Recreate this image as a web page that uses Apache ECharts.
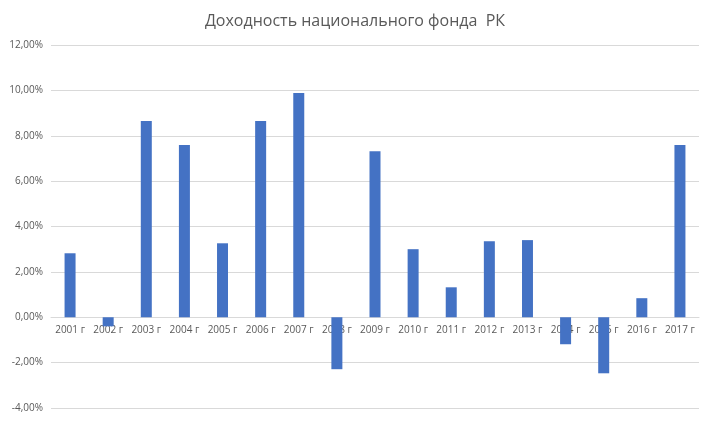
<!DOCTYPE html>
<html><head><meta charset="utf-8">
<script src="https://cdn.jsdelivr.net/npm/echarts@6/dist/echarts.min.js"></script>
<style>html,body{margin:0;padding:0;background:#fff}#c{width:710px;height:421px}</style>
</head><body><div id="c"></div>
<script>
const categories = ["2001 г","2002 г","2003 г","2004 г","2005 г","2006 г","2007 г","2008 г","2009 г","2010 г","2011 г","2012 г","2013 г","2014 г","2015 г","2016 г","2017 г"];
const values = [2.82,-0.40,8.65,7.59,3.26,8.65,9.88,-2.29,7.32,3.00,1.32,3.35,3.40,-1.19,-2.47,0.84,7.59];
const chart = echarts.init(document.getElementById('c'));
chart.setOption({
  animation:false,
  title:{text:'Доходность национального фонда  РК',left:'center',top:8,textStyle:{fontFamily:'Open Sans',fontSize:16,fontWeight:'normal',color:'#595959'}},
  grid:{left:51,right:11,top:45,bottom:13,outerBoundsMode:'none',containLabel:false},
  xAxis:{type:'category',data:categories,axisTick:{show:false},position:'bottom',offset:-91,
    axisLine:{onZero:false,lineStyle:{color:'#d9d9d9'}},
    axisLabel:{color:'#595959',fontSize:10,fontFamily:'Open Sans',margin:8,interval:0}},
  yAxis:{type:'value',min:-4,max:12,interval:2,
    axisLabel:{color:'#595959',fontSize:10,fontFamily:'Open Sans',formatter:v=>v.toFixed(2).replace('.',',')+'%'},
    splitLine:{lineStyle:{color:'#d9d9d9'}},axisLine:{show:false},axisTick:{show:false}},
  series:[{type:'bar',data:values,barWidth:11,itemStyle:{color:'#4472c4'},z:1}]
});
</script></body></html>
